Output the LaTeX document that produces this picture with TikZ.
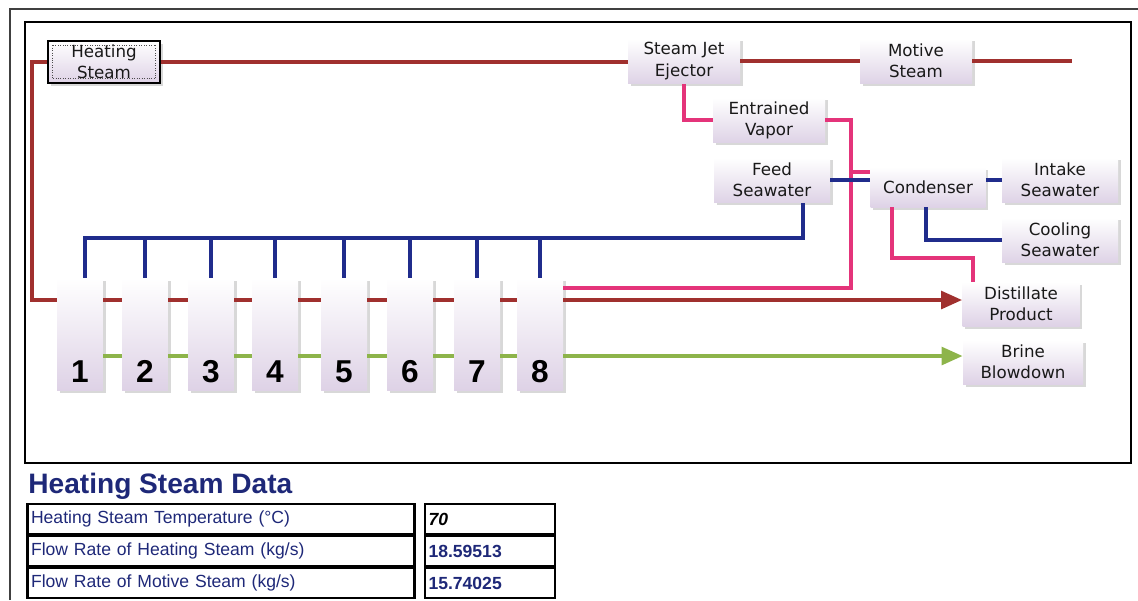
\documentclass[tikz,border=0pt]{standalone}
\usepackage{fontspec}
\setmainfont{Liberation Sans}
\newfontfamily\boxfont{DejaVu Sans}
\usetikzlibrary{positioning, arrows.meta, calc, shadows}

\definecolor{steamred}{RGB}{160,48,46}
\definecolor{vaporpink}{RGB}{228,52,122}
\definecolor{seablue}{RGB}{32,44,140}
\definecolor{brinegreen}{RGB}{141,180,74}
\definecolor{lav}{RGB}{222,210,230}
\definecolor{navy}{RGB}{30,40,120}

\begin{document}
\begin{tikzpicture}[
  x=0.02cm, y=-0.02cm,
  >={Triangle[length=12pt, width=10pt]},
  boxshade/.style = {drop shadow={shadow xshift=1.5pt, shadow yshift=-1.5pt, fill=black!30}},
  unit/.style   = {boxshade, align=center, font=\boxfont\fontsize{9.5}{12}\selectfont, text=black!90,
                   top color=white, bottom color=lav, minimum width=2.24cm, minimum height=0.9cm, inner sep=1pt},
  effect/.style = {boxshade, top color=white, bottom color=lav, minimum width=0.92cm, minimum height=2.24cm, inner sep=0pt},
  num/.style    = {font=\bfseries\fontsize{18}{20}\selectfont, inner sep=1pt, anchor=south},
  pipe/.style   = {line width=2.3pt},
  steam/.style  = {pipe, steamred},
  vapor/.style  = {pipe, vaporpink},
  sea/.style    = {pipe, seablue},
  brine/.style  = {pipe, brinegreen},
  lab/.style    = {draw, line width=1.2pt, text=navy, font=\fontsize{10}{12}\selectfont,
                   text width=7.6cm, minimum height=0.6cm, inner xsep=2pt, align=left},
  val/.style    = {lab, text width=2.46cm, font=\bfseries\fontsize{10}{12}\selectfont},
]
  \useasboundingbox (0,0) rectangle (1138,600);
  % frames
  \draw[black!75, line width=0.9pt] (10,600) -- (10,9) -- (1138,9);
  \draw[black, line width=1.3pt] (25,22) rectangle (1131,463);

  % units
  \node[unit, draw=black, line width=1.2pt, minimum height=0.84cm] (heat) at (104,62) {Heating\\Steam};
  \draw[densely dotted, black!70] ([shift={(3pt,-3pt)}]heat.north west) rectangle ([shift={(-3pt,3pt)}]heat.south east);
  \node[unit] (eject)  at (684,61) {Steam Jet\\Ejector};
  \node[unit] (motive) at (916,61) {Motive\\Steam};
  \node[unit] (vap)    at (769,120) {Entrained\\Vapor};
  \node[unit, minimum width=2.32cm] (feed)   at (772,180) {Feed\\Seawater};
  \node[unit, minimum width=2.3cm, minimum height=0.8cm] (cond) at (928,187) {Condenser};
  \node[unit, minimum width=2.32cm] (intake) at (1060,180) {Intake\\Seawater};
  \node[unit, minimum width=2.32cm] (cool)   at (1060,240) {Cooling\\Seawater};
  \node[unit, minimum width=2.34cm, minimum height=0.88cm] (dist)  at (1021,304) {Distillate\\Product};
  \node[unit, minimum width=2.4cm, minimum height=0.88cm]  (brine) at (1023,362) {Brine\\Blowdown};

  % effects
  \foreach \i/\x in {1/80, 2/145, 3/211, 4/275, 5/344, 6/410, 7/477, 8/540} {
    \node[effect] (e\i) at (\x,334) {};
    \node[num] (n\i) at ([yshift=3pt]e\i.south) {\i};
  }

  \coordinate (hs)    at (0,300);
  \coordinate (br)    at (0,356);
  \coordinate (hdr)   at (0,238);
  \coordinate (mend)  at (1072,61);
  \coordinate (vdrop) at (851,288);

  % steam lines
  \draw[steam] (heat.east) -- (eject.west |- heat.east);
  \draw[steam] (eject.east) -- (motive.west);
  \draw[steam] (motive.east) -- (mend);
  \draw[steam] (heat.west) -- ++(-15,0) |- (e1.west |- hs);
  \foreach \a/\b in {1/2, 2/3, 3/4, 4/5, 5/6, 6/7, 7/8} {
    \draw[steam] (e\a.east |- hs) -- (e\b.west |- hs);
    \draw[brine] (e\a.east |- br) -- (e\b.west |- br);
  }
  \draw[steam, ->] (e8.east |- hs) -- (dist.west |- hs);
  \draw[brine, ->] (e8.east |- br) -- (brine.west |- br);

  % vapor lines
  \draw[vapor] (eject.south) |- (vap.west);
  \draw[vapor] (vap.east) -| (vdrop) -- (e8.east |- vdrop);
  \draw[vapor] (vdrop |- 0,172) -- (cond.west |- 0,172);
  \draw[vapor] ($(cond.south west)+(22,0)$) |- ($(dist.north west)+(11,-24)$) -- ($(dist.north west)+(11,0)$);

  % seawater lines
  \draw[sea] (feed.east) -- (feed.east -| cond.west);
  \draw[sea] (cond.east |- intake.west) -- (intake.west);
  \draw[sea] ($(cond.south west)+(56,0)$) |- (cool.west);
  \draw[sea] ($(feed.south west)+(89,0)$) |- ($(e1.north |- hdr)+(5,0)$) -- ($(e1.north)+(5,0)$);
  \foreach \i in {2,...,8}
    \draw[sea] (e\i.north |- hdr) -- (e\i.north);

  % data table
  \node[anchor=west, text=navy, font=\bfseries\fontsize{16}{18}\selectfont, inner sep=0pt] (title) at (28,486) {Heating Steam Data};
  \node[lab] (r1) at (221,519) {Heating Steam Temperature (°C)};
  \node[lab, below=0pt of r1] (r2) {Flow Rate of Heating Steam (kg/s)};
  \node[lab, below=0pt of r2] (r3) {Flow Rate of Motive Steam (kg/s)};
  \node[val, text=black] (v1) at (490,519) {\itshape 70};
  \node[val, below=0pt of v1] (v2) {18.59513};
  \node[val, below=0pt of v2] (v3) {15.74025};
\end{tikzpicture}
\end{document}
